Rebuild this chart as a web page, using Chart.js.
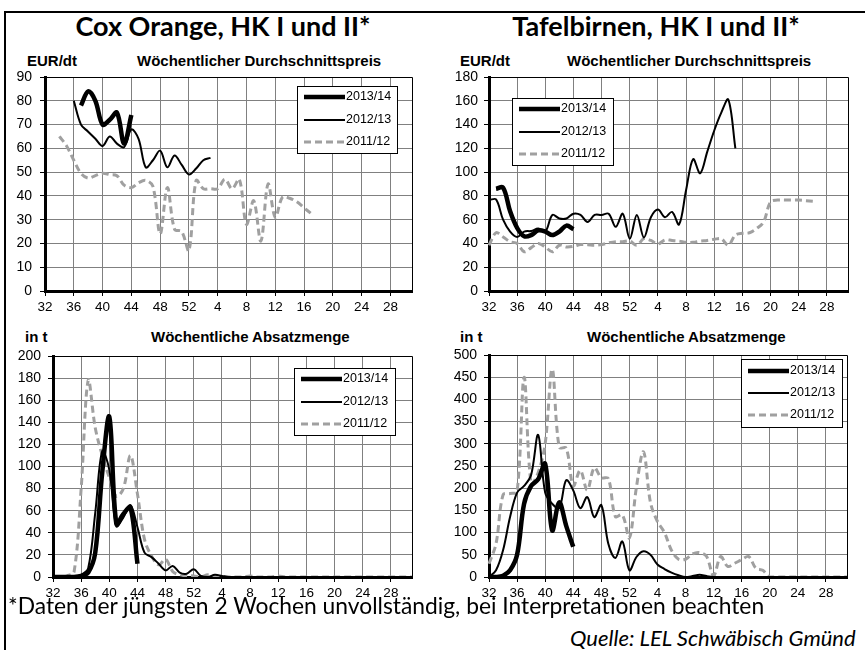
<!DOCTYPE html>
<html>
<head>
<meta charset="utf-8">
<script src="https://cdn.jsdelivr.net/npm/chart.js@4/dist/chart.umd.min.js"></script>
<style>
  body { margin: 0; width: 865px; height: 650px; overflow: hidden; background: #fff; position: relative; font-family: "Liberation Sans", Arial, sans-serif; }
  #frame { position: absolute; left: 4px; top: 11px; width: 900px; height: 700px; border: 2px solid #000; }
  .title { position: absolute; top: 11px; font-family: Lato, sans-serif; font-weight: bold; font-size: 27px; line-height: 30px; text-align: center; white-space: nowrap; }
  .sub { position: absolute; font-weight: bold; font-size: 15px; line-height: 17px; white-space: nowrap; }
  canvas { position: absolute; }
  #note { position: absolute; left: 8px; top: 592px; font-family: Lato, sans-serif; font-size: 22.8px; line-height: 26px; white-space: nowrap; }
  #quelle { position: absolute; left: 570px; top: 626px; font-family: Lato, sans-serif; font-style: italic; font-size: 22px; line-height: 24px; white-space: nowrap; }
</style>
</head>
<body>
<div id="frame"></div>

<div class="title" style="left:0; width:446px;">Cox Orange, HK I und II*</div>
<div class="title" style="left:432px; width:448px;">Tafelbirnen, HK I und II*</div>

<div class="sub" style="left:27px; top:52px;">EUR/dt</div>
<div class="sub" style="left:137px; top:52px;">Wöchentlicher Durchschnittspreis</div>
<div class="sub" style="left:460px; top:52px;">EUR/dt</div>
<div class="sub" style="left:567px; top:52px;">Wöchentlicher Durchschnittspreis</div>

<div class="sub" style="left:25px; top:328px;">in t</div>
<div class="sub" style="left:151px; top:328px;">Wöchentliche Absatzmenge</div>
<div class="sub" style="left:460px; top:328px;">in t</div>
<div class="sub" style="left:587px; top:328px;">Wöchentliche Absatzmenge</div>

<canvas id="coxPreis" width="432" height="260" style="left:0; top:60px;"></canvas>
<canvas id="birnenPreis" width="433" height="260" style="left:432px; top:60px;"></canvas>
<canvas id="coxMenge" width="432" height="275" style="left:0; top:330px;"></canvas>
<canvas id="birnenMenge" width="433" height="275" style="left:432px; top:330px;"></canvas>

<div id="note">*Daten der jüngsten 2 Wochen unvollständig, bei Interpretationen beachten</div>
<div id="quelle">Quelle: LEL Schwäbisch Gmünd</div>

<script>
// Kalenderwochen: Saison von KW 32 bis KW 31
const weeks = [32, 33, 34, 35, 36, 37, 38, 39, 40, 41, 42, 43, 44, 45, 46, 47, 48, 49, 50, 51, 52,
               1, 2, 3, 4, 5, 6, 7, 8, 9, 10, 11, 12, 13, 14, 15, 16, 17, 18, 19, 20, 21, 22, 23, 24, 25, 26, 27, 28, 29, 30, 31];
const seasons = ["2013/14", "2012/13", "2011/12"];

// Cox Orange, Preis EUR/dt
const coxPreis1314 = [null, null, null, null, null, 78, 84, 80, 70, 72, 75, 62, 74];
const coxPreis1213 = [null, null, null, null, 80, 70, 67, 64, 61, 65, 62, 60.5, 68, 64, 52, 55, 59, 52, 57, 53, 49, 51.5, 55, 56];
const coxPreis1112 = [null, null, 65, 61, 55, 49.5, 47.5, 48.5, 49.5, 49, 48.5, 44.5, 43.5, 45.5, 46.5, 44, 24, 43.5, 26, 25, 17,
                      46.5, 43, 43, 43, 47, 43, 47, 28, 38, 21, 45, 31, 39.5, 39, 37.5, 35, 32.5];

// Tafelbirnen, Preis EUR/dt
const birnenPreis1314 = [null, 86, 87, 67, 53, 46, 47, 51, 50, 47, 50, 55, 52];
const birnenPreis1213 = [76.5, 77, 60, 50, 45.5, 50, 50.5, 52.5, 50, 64, 61, 61, 65, 64, 58, 64, 64, 65, 54, 65, 44,
                         64, 45, 62, 68.5, 62, 66.5, 56, 85, 111, 99, 117, 135, 150, 161, 120];
const birnenPreis1112 = [38.5, 49, 45.5, 41.5, 40, 33, 36.5, 40, 37, 33, 38.5, 37, 37.5, 39, 39, 38.5, 39, 40.5, 41.5, 41.5, 42,
                         38.5, 44, 42.5, 39.5, 43, 42.5, 42, 41, 41, 42, 42.5, 43.5, 44, 38.5, 47, 48.5, 49, 52.5, 58, 75,
                         76.5, 76.5, 76.5, 76.5, 76, 75.5];

// Cox Orange, Absatzmenge in t
const coxMenge1314 = [0, 0, 0, 0, 1, 4, 22, 95, 145, 48, 57, 63, 12];
const coxMenge1213 = [0, 0, 0, 0, 2, 8, 58, 114, 97, 46, 54, 65, 45, 22, 18, 12, 6, 10, 4, 3, 7,
                      1, 0, 2, 1, 0, 0, 0, 0, 0, 0, 0, 0, 0, 0, 0, 0, 0, 0, 0, 0, 0, 0, 0, 0, 0, 0, 0, 0, 0, 0, 0];
const coxMenge1112 = [0, 0, 1, 5, 80, 178, 135, 110, 90, 73, 80, 110, 75, 34, 19, 11, 16, 5, 2, 1, 1,
                      0, 2, 1, 0, 0, 0, 0, 1, 0, 0, 0, 1, 0, 0, 0, 0, 0, 0, 0, 0, 0, 0, 0, 0, 0, 0, 0, 0, 0, 0, 0];

// Tafelbirnen, Absatzmenge in t
const birnenMenge1314 = [0, 0, 3, 15, 50, 165, 205, 220, 255, 105, 168, 115, 68];
const birnenMenge1213 = [0, 15, 60, 135, 190, 205, 230, 320, 190, 165, 155, 218, 195, 155, 180, 135, 162, 75, 43, 80, 15,
                         45, 58, 50, 28, 18, 10, 4, 0, 2, 5, 2, 0, 0, 0, 0, 0, 0, 0, 0, 0, 0, 0, 0, 0, 0, 0, 0, 0, 0, 0, 0];
const birnenMenge1112 = [30, 75, 185, 188, 192, 450, 210, 235, 300, 468, 292, 290, 205, 240, 196, 246, 224, 222, 136, 140, 88,
                         202, 282, 168, 125, 100, 60, 40, 40, 52, 55, 46, 3, 46, 24, 31, 39, 46, 20, 15, 0,
                         0, 0, 0, 0, 0, 0, 0, 0, 0, 0, 0];

const axisFont = { family: '"Liberation Sans", Arial, sans-serif', size: 14 };
const weekFont = { family: '"Liberation Sans", Arial, sans-serif', size: 13.5 };

// dünner Rahmen oben und rechts um die Zeichenfläche
const plotFrame = {
    id: 'plotFrame',
    beforeDatasetsDraw(chart) {
        const { ctx, chartArea: a } = chart;
        ctx.save();
        ctx.strokeStyle = '#000';
        ctx.lineWidth = 1;
        ctx.beginPath();
        ctx.moveTo(a.left, Math.round(a.top) + 0.5);
        ctx.lineTo(Math.round(a.right) + 0.5, Math.round(a.top) + 0.5);
        ctx.lineTo(Math.round(a.right) + 0.5, a.bottom);
        ctx.stroke();
        ctx.restore();
    }
};

// Legende im Kasten wie in Excel
const boxLegend = {
    id: 'boxLegend',
    afterDraw(chart, args, o) {
        const ctx = chart.ctx;
        ctx.save();
        ctx.fillStyle = '#fff';
        ctx.fillRect(o.x, o.y, o.w, o.h);
        ctx.strokeStyle = '#000';
        ctx.lineWidth = 1;
        ctx.setLineDash([]);
        ctx.strokeRect(o.x + 0.5, o.y + 0.5, o.w, o.h);
        chart.data.datasets.forEach((ds, i) => {
            const y = o.y + o.rows[i];
            ctx.beginPath();
            ctx.strokeStyle = ds.borderColor;
            ctx.lineWidth = ds.borderWidth;
            ctx.setLineDash(ds.borderDash || []);
            ctx.moveTo(o.x + 7, y);
            ctx.lineTo(o.x + 48, y);
            ctx.stroke();
            ctx.setLineDash([]);
            ctx.fillStyle = '#000';
            ctx.font = '12.5px "Liberation Sans", Arial, sans-serif';
            ctx.textBaseline = 'middle';
            ctx.fillText(ds.label, o.x + 49, y);
        });
        ctx.restore();
    }
};

function makePanel(id, box, plot, yMax, yStep, yPad, values, legend) {
    const styles = [
        { borderColor: '#000', borderWidth: 4.5 },
        { borderColor: '#000', borderWidth: 2 },
        { borderColor: '#a0a0a0', borderWidth: 3, borderDash: [7, 4] }
    ];
    return new Chart(document.getElementById(id), {
        type: 'line',
        data: {
            labels: weeks,
            datasets: values.map((v, i) => Object.assign({
                label: seasons[i],
                data: v,
                pointRadius: 0,
                tension: 0.35,
                fill: false
            }, styles[i]))
        },
        options: {
            responsive: false,
            animation: false,
            events: [],
            layout: {
                padding: { left: 0, top: plot.top - box.top, right: box.left + box.w - plot.right, bottom: 0 }
            },
            scales: {
                x: {
                    type: 'category',
                    offset: false,
                    afterFit: s => { s.height = box.top + box.h - plot.bottom; },
                    border: { display: true, color: '#000', width: 3 },
                    grid: {
                        color: c => c.index % 4 === 0 ? '#808080' : 'rgba(0,0,0,0)',
                        tickColor: c => c.index % 4 === 0 ? '#000' : 'rgba(0,0,0,0)',
                        tickLength: 5
                    },
                    ticks: {
                        autoSkip: false,
                        maxRotation: 0,
                        padding: 3,
                        color: '#000',
                        font: weekFont,
                        callback: (v, i) => i % 4 === 0 ? String(weeks[i]) : ''
                    }
                },
                y: {
                    min: 0,
                    max: yMax,
                    afterFit: s => { s.width = plot.left - box.left; },
                    border: { display: true, color: '#000', width: 3 },
                    grid: { color: '#808080', tickColor: '#000', tickLength: 5 },
                    ticks: { stepSize: yStep, padding: yPad, color: '#000', font: axisFont }
                }
            },
            plugins: {
                legend: { display: false },
                tooltip: { enabled: false },
                boxLegend: legend
            }
        },
        plugins: [plotFrame, boxLegend]
    });
}

makePanel('coxPreis',
    { left: 0, top: 60, w: 432, h: 260 },
    { left: 45, top: 77, right: 412, bottom: 291 },
    90, 10, 8,
    [coxPreis1314, coxPreis1213, coxPreis1112],
    { x: 297, y: 26, w: 100, h: 67, rows: [11, 34, 56] });

makePanel('birnenPreis',
    { left: 432, top: 60, w: 433, h: 260 },
    { left: 489, top: 77, right: 848, bottom: 291 },
    180, 20, 6,
    [birnenPreis1314, birnenPreis1213, birnenPreis1112],
    { x: 80, y: 38, w: 101, h: 67, rows: [11, 34, 56] });

makePanel('coxMenge',
    { left: 0, top: 330, w: 432, h: 275 },
    { left: 53, top: 356, right: 412, bottom: 577 },
    200, 20, 7,
    [coxMenge1314, coxMenge1213, coxMenge1112],
    { x: 294, y: 38, w: 101, h: 67, rows: [11, 34, 56] });

makePanel('birnenMenge',
    { left: 432, top: 330, w: 433, h: 275 },
    { left: 489, top: 355, right: 847, bottom: 577 },
    500, 50, 7,
    [birnenMenge1314, birnenMenge1213, birnenMenge1112],
    { x: 309, y: 29, w: 101, h: 68, rows: [12, 34, 56] });
</script>
</body>
</html>
